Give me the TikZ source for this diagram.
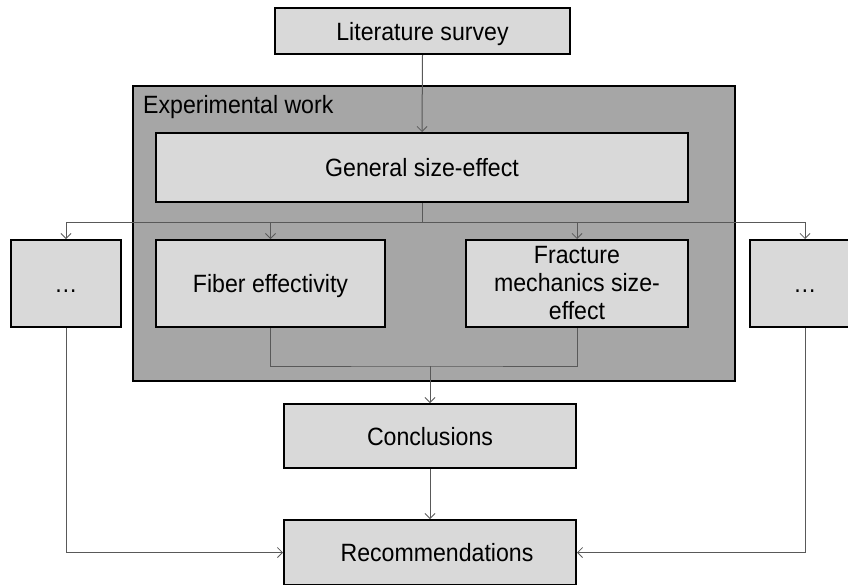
\documentclass[tikz,border=0pt]{standalone}
\usepackage{fontspec}
\setmainfont[FakeStretch=0.925]{Liberation Sans}
\usetikzlibrary{arrows.meta}
\definecolor{boxfill}{HTML}{D9D9D9}
\definecolor{outerfill}{HTML}{A6A6A6}
\definecolor{linecol}{HTML}{595959}
\tikzset{
  box/.style={draw=black, line width=2pt, fill=boxfill, inner sep=2pt,
    font=\fontsize{25}{28}\selectfont, align=center},
  oneline/.style={box, text height=18pt, text depth=0pt},
  conn/.style={draw=linecol, line width=1pt},
  arr/.style={conn, -{Straight Barb[length=5pt,width=10pt,line width=0.8pt]}},
}
\begin{document}
\begin{tikzpicture}[x=1pt,y=-1pt]
\useasboundingbox (0,0) rectangle (848,584);
\fill[white] (0,0) rectangle (848,584);
\node[draw=black, line width=2pt, fill=outerfill, minimum width=602pt, minimum height=295pt] (exp) at (434,233.5) {};
\node[anchor=base west, font=\fontsize{25}{28}\selectfont, inner sep=0pt] (explabel) at (143,113.5) {Experimental work};
\node[oneline, minimum width=295pt, minimum height=46pt] (lit) at (422.5,31) {Literature survey};
\node[oneline, minimum width=532pt, minimum height=69pt] (gen) at (422,167.5) {General size-effect};
\node[oneline, minimum width=229pt, minimum height=87pt] (fib) at (270.5,283.5) {Fiber effectivity};
\node[box, minimum width=222pt, minimum height=87pt] (fra) at (577,283.5) {Fracture\\mechanics size-\\effect};
\node[oneline, minimum width=110pt, minimum height=87pt] (ldots) at (66,283.5) {…};
\node[oneline, minimum width=110pt, minimum height=87pt] (rdots) at (805,283.5) {…};
\node[oneline, minimum width=292pt, minimum height=64pt] (conc) at (430,436) {Conclusions};
\node[oneline, minimum width=292pt, minimum height=65pt] (rec) at (430,552.5) {\hspace*{14pt}Recommendations};
\coordinate (b) at (422,222);
\coordinate (m) at (430,366);
\draw[arr] (lit.south) -- (gen.north);
\draw[conn] (gen.south) -- (b);
\draw[arr] (b) -| (ldots.north);
\draw[arr] (b) -| (rdots.north);
\draw[arr] (fib.north |- b) -- (fib.north);
\draw[arr] (fra.north |- b) -- (fra.north);
\draw[conn] (fib.south) |- (m) -| (fra.south);
\draw[arr] (m) -- (conc.north);
\draw[arr] (conc.south) -- (rec.north);
\draw[arr] (ldots.south) |- (rec.west);
\draw[arr] (rdots.south) |- (rec.east);
\end{tikzpicture}
\end{document}
